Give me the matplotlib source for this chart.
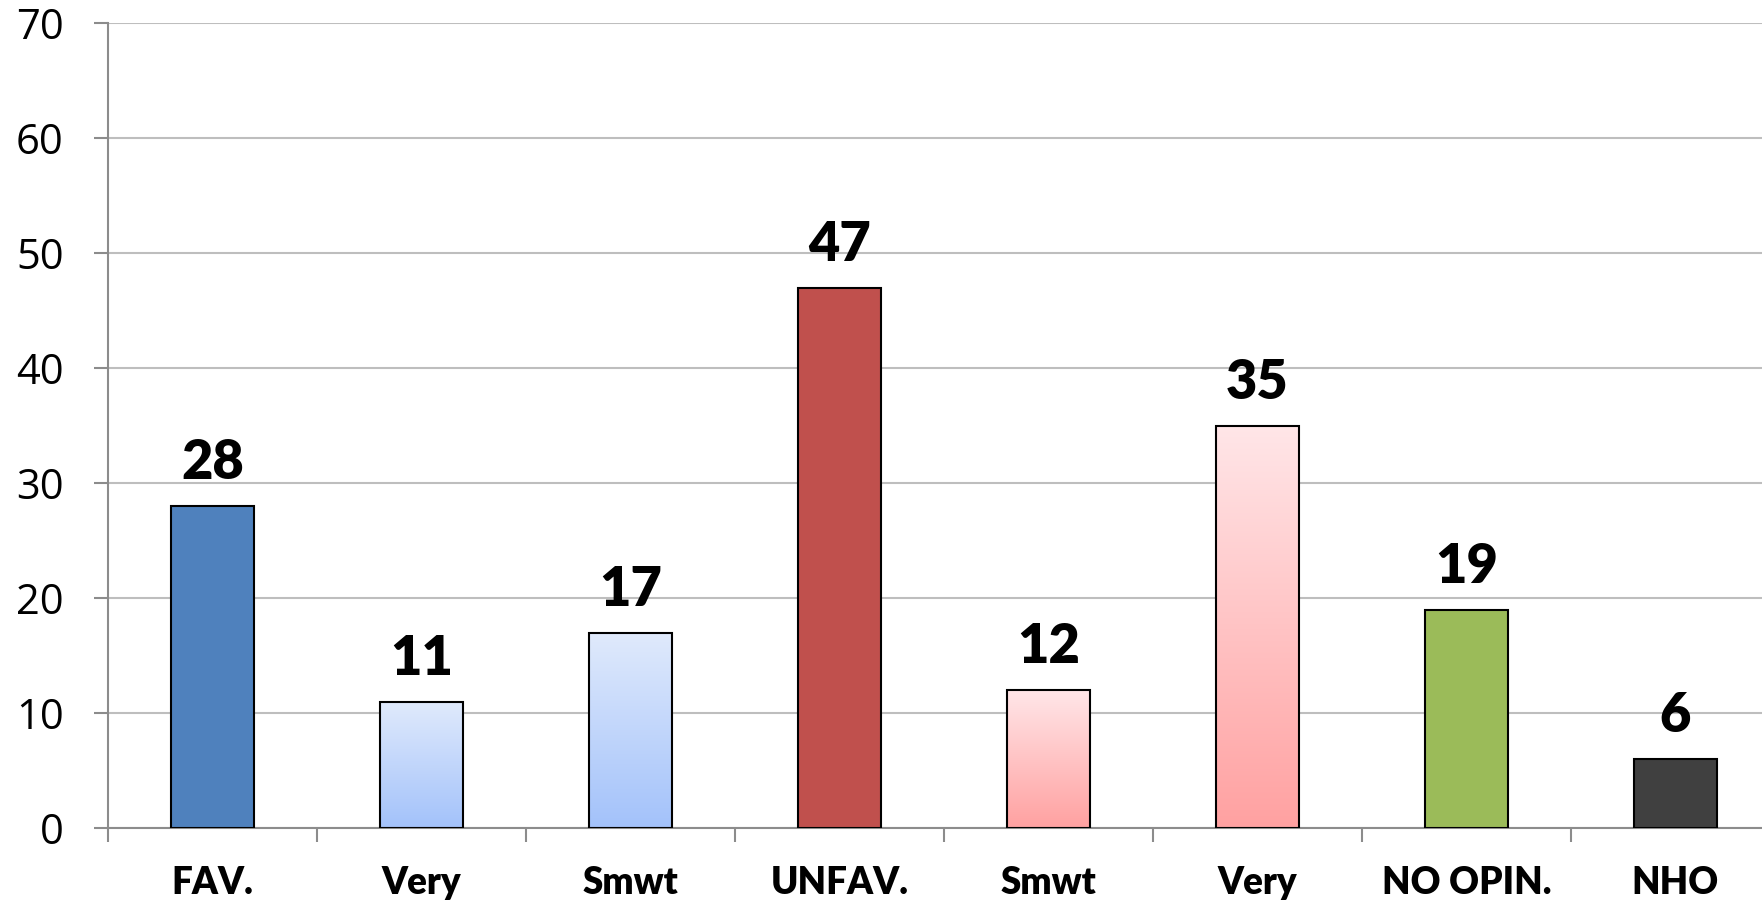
import matplotlib
matplotlib.use('Agg')
import matplotlib.pyplot as plt
from matplotlib.colors import LinearSegmentedColormap
import numpy as np

labels = ['FAV.', 'Very', 'Smwt', 'UNFAV.', 'Smwt', 'Very', 'NO OPIN.', 'NHO']
values = [28, 11, 17, 47, 12, 35, 19, 6]
# solid colour or (top, bottom) gradient
fills = ['#4F81BD', ('#E0EAFC', '#A3C2FA'), ('#E0EAFC', '#A3C2FA'), '#C0504D',
         ('#FFE6E8', '#FFA1A1'), ('#FFE6E8', '#FFA1A1'), '#9BBB59', '#404040']

fig = plt.figure(figsize=(17.62, 9.05), dpi=100)
ax = fig.add_axes([108 / 1762, 1 - 828 / 905, 1672 / 1762, (828 - 23.5) / 905])

x = np.arange(len(values))
bars = ax.bar(x, values, width=0.4, color='none', edgecolor='black', linewidth=1.5, zorder=3)

for b, f in zip(bars, fills):
    if isinstance(f, tuple):
        cmap = LinearSegmentedColormap.from_list('g', [f[1], f[0]])
        grad = np.linspace(0, 1, 256).reshape(-1, 1)
        im = ax.imshow(grad, cmap=cmap, origin='lower', aspect='auto', zorder=2,
                       extent=[b.get_x(), b.get_x() + b.get_width(), 0, b.get_height()])
        im.set_clip_path(b)
    else:
        b.set_facecolor(f)

for xi, v in zip(x, values):
    ax.annotate(str(v), (xi, v), xytext=(0, 13), textcoords='offset points',
                ha='center', va='bottom', fontsize=39, fontweight='heavy', family='Lato')

ax.set_xlim(-0.5, len(values) - 0.5)
ax.set_ylim(0, 70)
ax.set_yticks(range(0, 71, 10))
ax.yaxis.grid(True, color='#BEBEBE', linewidth=1.5, zorder=0)
ax.set_axisbelow(True)

ax.set_xticks(np.arange(len(values) + 1) - 0.5)
ax.set_xticklabels([])
ax.set_xticks(x, minor=True)
ax.set_xticklabels(labels, minor=True, fontsize=26.5, fontweight='heavy', family='Lato')
ax.tick_params(axis='x', which='minor', length=0, pad=27)
ax.tick_params(axis='x', which='major', length=10, width=1.5, color='#8C8C8C', direction='out')
ax.tick_params(axis='y', length=10, width=1.5, color='#8C8C8C', pad=22, labelsize=30)
for t in ax.get_yticklabels():
    t.set_family('Open Sans')

for s in ['top', 'right']:
    ax.spines[s].set_visible(False)
for s in ['left', 'bottom']:
    ax.spines[s].set_color('#8C8C8C')
    ax.spines[s].set_linewidth(1.5)

fig.savefig('out.png', dpi=100)
